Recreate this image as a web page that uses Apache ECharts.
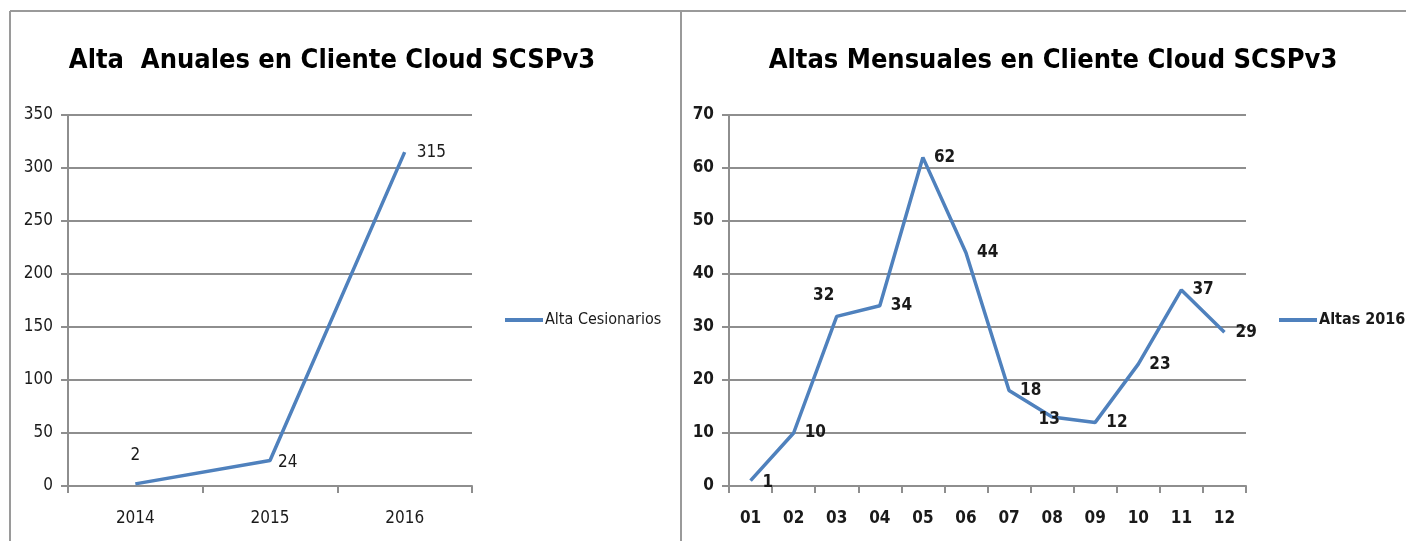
<!DOCTYPE html>
<html>
<head>
<meta charset="utf-8">
<script src="https://cdn.jsdelivr.net/npm/echarts@6/dist/echarts.min.js"></script>
<style>
  html, body { margin: 0; padding: 0; background: #fff; }
  #chart { width: 1406px; height: 541px; }
</style>
</head>
<body>
<div id="chart"></div>
<script>
// datos del gráfico anual
const years = ['2014', '2015', '2016'];
const altaCesionarios = [2, 24, 315];
// datos del gráfico mensual
const months = ['01', '02', '03', '04', '05', '06', '07', '08', '09', '10', '11', '12'];
const altas2016 = [1, 10, 32, 34, 62, 44, 18, 13, 12, 23, 37, 29];

const FONT = "'DejaVu Sans Condensed', 'Liberation Sans', sans-serif";
const BLUE = '#4f81bd';
const GRID_GRAY = '#8e8e8e';

// posición de las etiquetas, como en el original
const yearLabelPos = [
  { position: 'top', distance: 20 },
  { position: 'right', distance: 8, offset: [0, 2] },
  { position: 'right', distance: 12 }
];
const monthLabelPos = {
  0: { position: 'right', distance: 12, offset: [0, 2] },
  2: { position: 'top', distance: 12, offset: [-13, 0] },
  7: { position: 'inside', offset: [-3, 2] }
};

const chart = echarts.init(document.getElementById('chart'));

function valAxis(bold, max, interval, gridIndex) {
  return {
    type: 'value',
    gridIndex: gridIndex,
    min: 0,
    max: max,
    interval: interval,
    axisLine: { show: true, lineStyle: { color: GRID_GRAY, width: 2 } },
    axisTick: { show: true, length: 7, lineStyle: { color: GRID_GRAY, width: 2 } },
    splitLine: { lineStyle: { color: GRID_GRAY, width: 2 } },
    axisLabel: { fontFamily: FONT, fontSize: 17, fontWeight: bold ? 'bold' : 'normal', color: '#1a1a1a', margin: 15 }
  };
}

function catAxis(data, bold, gridIndex) {
  return {
    type: 'category',
    gridIndex: gridIndex,
    data: data,
    boundaryGap: true,
    axisLine: { lineStyle: { color: GRID_GRAY, width: 2 } },
    axisTick: { show: true, length: 7, lineStyle: { color: GRID_GRAY, width: 2 } },
    axisLabel: { fontFamily: FONT, fontSize: 17, fontWeight: bold ? 'bold' : 'normal', color: '#1a1a1a', margin: 24 }
  };
}

const option = {
  animation: false,
  title: [
    {
      text: 'Alta  Anuales en Cliente Cloud SCSPv3',
      left: 327, top: 42, textAlign: 'center',
      textStyle: { fontFamily: FONT, fontSize: 27, fontWeight: 'bold', color: '#000' }
    },
    {
      text: 'Altas Mensuales en Cliente Cloud SCSPv3',
      left: 1048, top: 42, textAlign: 'center',
      textStyle: { fontFamily: FONT, fontSize: 27, fontWeight: 'bold', color: '#000' }
    }
  ],
  legend: [
    {
      data: ['Alta Cesionarios'],
      left: 500, top: 307,
      icon: 'rect', itemWidth: 38, itemHeight: 4,
      itemStyle: { color: BLUE, opacity: 1 },
      textStyle: { fontFamily: FONT, fontSize: 16, color: '#1a1a1a', padding: [0, 0, 0, -3] }
    },
    {
      data: ['Altas 2016'],
      left: 1274, top: 307,
      icon: 'rect', itemWidth: 38, itemHeight: 4,
      itemStyle: { color: BLUE, opacity: 1 },
      textStyle: { fontFamily: FONT, fontSize: 16, fontWeight: 'bold', color: '#1a1a1a', padding: [0, 0, 0, -3] }
    }
  ],
  grid: [
    { left: 68, top: 115, width: 404, height: 371 },
    { left: 729, top: 115, width: 517, height: 371 }
  ],
  xAxis: [
    catAxis(years, false, 0),
    catAxis(months, true, 1)
  ],
  yAxis: [
    valAxis(false, 350, 50, 0),
    valAxis(true, 70, 10, 1)
  ],
  series: [
    {
      name: 'Alta Cesionarios',
      type: 'line',
      xAxisIndex: 0, yAxisIndex: 0,
      symbol: 'circle', symbolSize: 0.1,
      showSymbol: true,
      color: BLUE,
      itemStyle: { color: 'rgba(0,0,0,0)' },
      lineStyle: { color: BLUE, width: 3.5 },
      label: { show: true, fontFamily: FONT, fontSize: 17, color: '#1a1a1a' },
      data: altaCesionarios.map((v, i) => ({ value: v, label: yearLabelPos[i] }))
    },
    {
      name: 'Altas 2016',
      type: 'line',
      xAxisIndex: 1, yAxisIndex: 1,
      symbol: 'circle', symbolSize: 0.1,
      showSymbol: true,
      color: BLUE,
      itemStyle: { color: 'rgba(0,0,0,0)' },
      lineStyle: { color: BLUE, width: 3.5 },
      label: { show: true, position: 'right', distance: 11, fontFamily: FONT, fontSize: 17, fontWeight: 'bold', color: '#1a1a1a' },
      data: altas2016.map((v, i) => ({ value: v, label: monthLabelPos[i] || {} }))
    }
  ],
  graphic: [
    { type: 'line', shape: { x1: 10, y1: 11, x2: 1406, y2: 11 }, style: { stroke: '#9a9a9a', lineWidth: 2 } },
    { type: 'line', shape: { x1: 10, y1: 11, x2: 10, y2: 541 }, style: { stroke: '#9a9a9a', lineWidth: 2 } },
    { type: 'line', shape: { x1: 681, y1: 11, x2: 681, y2: 541 }, style: { stroke: '#9a9a9a', lineWidth: 2 } }
  ]
};

chart.setOption(option);
</script>
</body>
</html>
